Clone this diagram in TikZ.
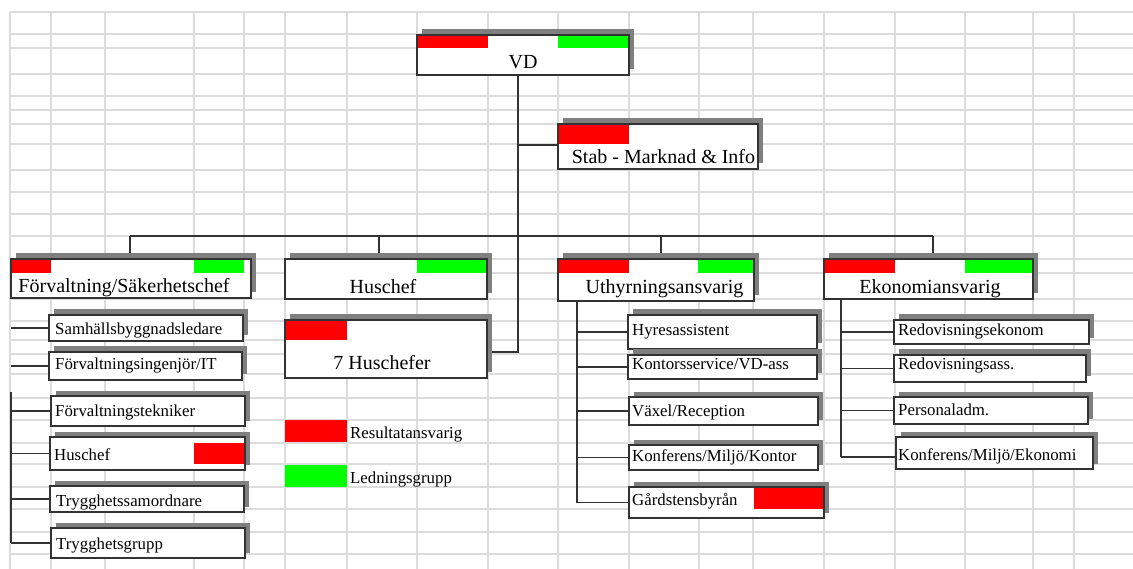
\documentclass[tikz,border=0pt]{standalone}
\usepackage{fontspec}
\setmainfont{Liberation Serif}
\usetikzlibrary{fit,shadows}
\definecolor{gridc}{HTML}{DCDCDC}
\definecolor{boxc}{HTML}{333333}
\definecolor{shadc}{HTML}{7F7F7F}
\definecolor{redc}{HTML}{FF0000}
\definecolor{greenc}{HTML}{00FF00}
\pgfdeclarelayer{gridlayer}
\pgfdeclarelayer{linelayer}
\pgfsetlayers{gridlayer,linelayer,main}
\begin{document}
\begin{tikzpicture}[x=1pt,y=-1pt,
  box/.style={draw=boxc, fill=white, line width=1.4pt, inner sep=0pt, outer sep=0pt,
    drop shadow={shadow xshift=4.5pt, shadow yshift=5.5pt, fill=shadc, opacity=1}},
  border/.style={draw=boxc, line width=1.4pt},
  big/.style={inner sep=0pt, anchor=base, text=black, font=\fontsize{20}{23}\selectfont},
  small/.style={inner sep=0pt, anchor=base west, text=black, font=\fontsize{16.8}{20}\selectfont},
  conn/.style={draw=boxc, line width=1.5pt},
  gridline/.style={draw=gridc, line width=1.2pt},
  redbar/.style={fill=redc},
  greenbar/.style={fill=greenc}]
\useasboundingbox (0,0) rectangle (1133,569);

% background and grid
\begin{pgfonlayer}{gridlayer}
\fill[white] (0,0) rectangle (1133,569);
\foreach \yy in {12,34,48,74,96,110,124,144,170,192,214,236,259,273,299,321,340,354,374,398,420,443,464,487,509,532,554}
  \draw[gridline] (10,\yy) -- (1133,\yy);
\foreach \xx in {10,51,105,194,244,285,347,417,488,558,629,699,753,824,895,965,1033,1074}
  \draw[gridline] (\xx,12) -- (\xx,569);
\end{pgfonlayer}

% top level boxes
\node[box, fit={(417,35) (629,75)}] (vd) {};
\node[box, fit={(558,124) (758,169)}] (stab) {};
\node[box, fit={(11,259) (251,298)}] (forv) {};
\node[box, fit={(285,259) (487,299)}] (hus) {};
\node[box, fit={(285,320) (487,378)}] (hus7) {};
\node[box, fit={(558,259) (754,301)}] (uth) {};
\node[box, fit={(824,259) (1033,299)}] (eko) {};

% children of Forvaltning
\node[box, fit={(49,315) (243,341)}] (samh) {};
\node[box, fit={(49,352) (242,380)}] (fing) {};
\node[box, fit={(51,396) (245,426)}] (ftek) {};
\node[box, fit={(50,437) (245,470)}] (fhus) {};
\node[box, fit={(50,486) (244,512)}] (tsam) {};
\node[box, fit={(51,528) (245,558)}] (tgrp) {};

% children of Uthyrning
\node[box, fit={(628,315) (817,349)}] (hyr) {};
\node[box, fit={(628,355) (817,379)}] (kont) {};
\node[box, fit={(629,397) (818,425)}] (vax) {};
\node[box, fit={(629,445) (818,470)}] (konk) {};
\node[box, fit={(629,487) (824,518)}] (gard) {};

% children of Ekonomi
\node[box, fit={(894,320) (1089,344)}] (rek) {};
\node[box, fit={(894,355) (1086,382)}] (ras) {};
\node[box, fit={(894,397) (1088,424)}] (padm) {};
\node[box, fit={(896,437) (1093,469)}] (kme) {};

% colour bars
\fill[redbar] (417,35) rectangle (488,48);
\fill[greenbar] (558,35) rectangle (629,48);
\fill[redbar] (558,124) rectangle (629,144);
\fill[redbar] (11,259) rectangle (51,273);
\fill[greenbar] (194,259) rectangle (244,273);
\fill[greenbar] (417,259) rectangle (487,273);
\fill[redbar] (285,320) rectangle (347,340);
\fill[redbar] (558,259) rectangle (629,273);
\fill[greenbar] (698,259) rectangle (753,273);
\fill[redbar] (824,259) rectangle (895,273);
\fill[greenbar] (965,259) rectangle (1033,273);
\fill[redbar] (194,443) rectangle (245,464);
\fill[redbar] (754,487) rectangle (824,509);

% redraw borders over bars
\foreach \nn in {vd,stab,forv,hus,hus7,uth,eko,fhus,gard}
  \draw[border] (\nn.north west) rectangle (\nn.south east);

% legend
\node[fill=redc, inner sep=0pt, outer sep=0pt, fit={(285,420) (347,442)}] (legr) {};
\node[fill=greenc, inner sep=0pt, outer sep=0pt, fit={(285,465) (347,487)}] (legg) {};
\node[small] (legr-t) at (350,438) {Resultatansvarig};
\node[small] (legg-t) at (350,483) {Ledningsgrupp};

% texts
\node[big] (vd-t) at (523,69) {VD};
\node[big] (stab-t) at (663.5,164) {Stab - Marknad \& Info};
\node[big] (forv-t) at (124,293) {Förvaltning/Säkerhetschef};
\node[big] (hus-t) at (383,294) {Huschef};
\node[big] (hus7-t) at (382,370) {7 Huschefer};
\node[big] (uth-t) at (664.5,294) {Uthyrningsansvarig};
\node[big] (eko-t) at (930,294) {Ekonomiansvarig};

\node[small] (samh-t) at (55,335) {Samhällsbyggnadsledare};
\node[small] (fing-t) at (55,370) {Förvaltningsingenjör/IT};
\node[small] (ftek-t) at (55,416) {Förvaltningstekniker};
\node[small] (fhus-t) at (54,460) {Huschef};
\node[small] (tsam-t) at (56,506) {Trygghetssamordnare};
\node[small] (tgrp-t) at (56,549) {Trygghetsgrupp};

\node[small] (hyr-t) at (632,336) {Hyresassistent};
\node[small] (kont-t) at (632,370) {Kontorsservice/VD-ass};
\node[small] (vax-t) at (632,416) {Växel/Reception};
\node[small] (konk-t) at (632,461) {Konferens/Miljö/Kontor};
\node[small] (gard-t) at (632,505) {Gårdstensbyrån};

\node[small] (rek-t) at (898,336) {Redovisningsekonom};
\node[small] (ras-t) at (898,370) {Redovisningsass.};
\node[small] (padm-t) at (898,415) {Personaladm.};
\node[small] (kme-t) at (898,460) {Konferens/Miljö/Ekonomi};

% connectors
\coordinate (busL) at (130,236);
\coordinate (busH) at (379,236);
\coordinate (busU) at (661,236);
\coordinate (busR) at (933,236);
\coordinate (fx) at (11,392);
\coordinate (ux) at (577,0);
\coordinate (ex) at (841,0);
\begin{pgfonlayer}{linelayer}
\draw[conn] ([xshift=-5pt]vd.south) |- ([xshift=5pt,yshift=-3pt]hus7.east);
\draw[conn] ([xshift=-5pt]vd.south) |- ([yshift=1.5pt]stab.west);
\draw[conn] (busL) -- (busR);
\draw[conn] (busL) -- (busL |- forv.north);
\draw[conn] (busH) -- (busH |- hus.north);
\draw[conn] (busU) -- (busU |- uth.north);
\draw[conn] (busR) -- (busR |- eko.north);
% Forvaltning
\draw[conn] (fx) -- (fx |- tgrp.west);
\foreach \nn in {samh,fing,ftek,fhus,tsam,tgrp}
  \draw[conn] (fx |- \nn.west) -- (\nn.west);
% Uthyrning
\draw[conn] (ux |- uth.south) -- (ux |- gard.west);
\foreach \nn in {hyr,kont,vax,konk,gard}
  \draw[conn] (ux |- \nn.west) -- (\nn.west);
% Ekonomi
\draw[conn] (ex |- eko.south) -- ([yshift=-4pt]ex |- kme.west);
\foreach \nn in {rek,ras,padm}
  \draw[conn] (ex |- \nn.west) -- (\nn.west);
\draw[conn] ([yshift=-4pt]ex |- kme.west) -- ([yshift=-4pt]kme.west);
\end{pgfonlayer}
\end{tikzpicture}
\end{document}
